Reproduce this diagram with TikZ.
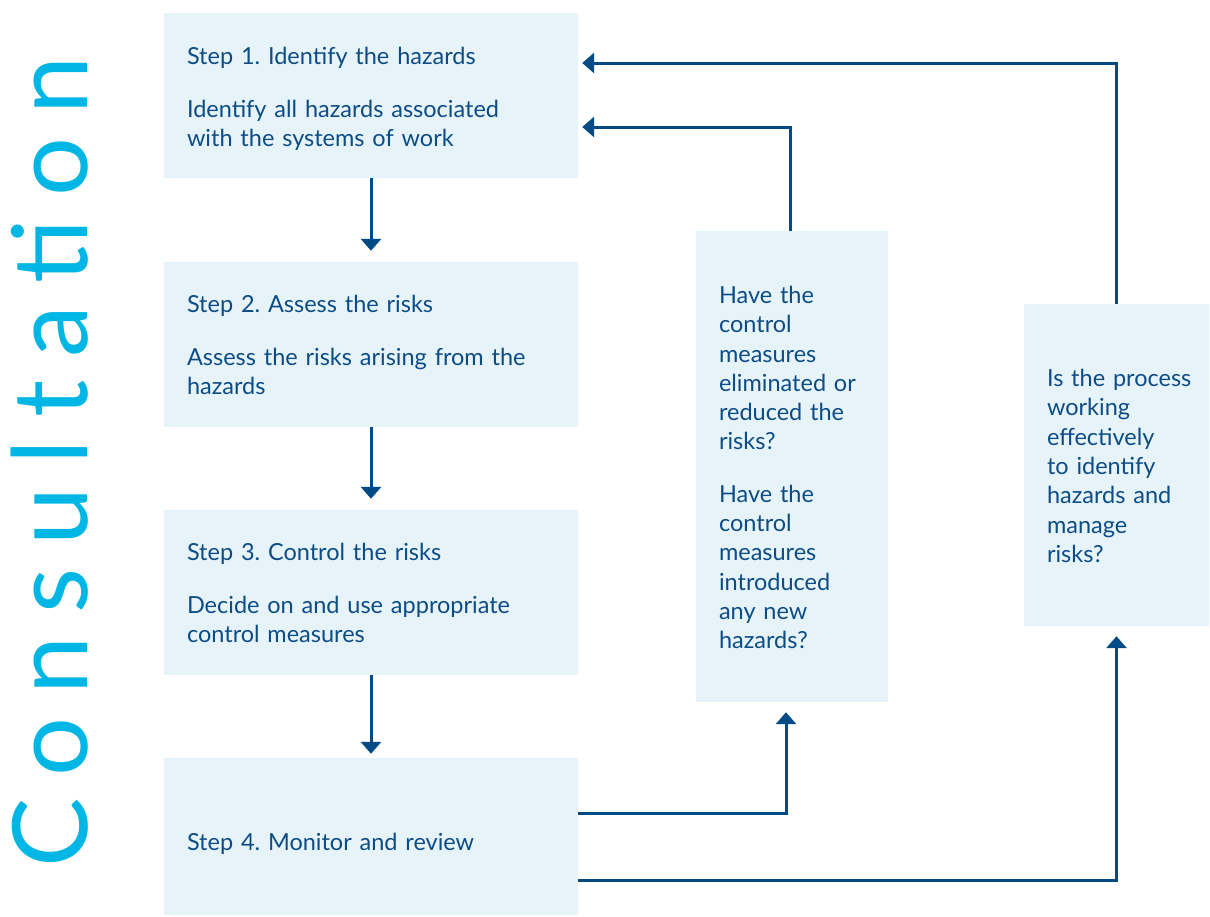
\documentclass[tikz,border=0pt]{standalone}
\usepackage{fontspec}
\setmainfont{Lato}
\newfontfamily\consfont[LetterSpace=22]{Lato}
\usetikzlibrary{arrows.meta}
\definecolor{boxblue}{HTML}{E6F4FA}
\definecolor{textblue}{HTML}{0E4C86}
\definecolor{linkblue}{HTML}{004A86}
\definecolor{cyanword}{HTML}{00B6E4}
\frenchspacing
\hyphenpenalty=10000
\exhyphenpenalty=10000

\begin{document}
\begin{tikzpicture}[x=1pt,y=-1pt,
  stepbox/.style={fill=boxblue,text=textblue,align=left,inner xsep=23pt,
    inner ysep=0pt,font=\fontsize{23.5}{29.3}\selectfont},
  textdrop/.style={execute at begin node={\rule{0pt}{#1}}},
  link/.style={draw=linkblue,line width=3pt,
    -{Triangle[width=20pt,length=12pt]}}]
    \useasboundingbox (0,0) rectangle (1210,916);
    % side word
    \node[rotate=90,text=cyanword,inner sep=0pt,
      font=\consfont\fontsize{104}{104}\selectfont] (cons) at (50,462) {Consultation};

    % steps
    \node[stepbox,textdrop=24.3pt,text width=368pt,minimum height=165pt] (s1) at (371,95.5)
      {Step 1. Identify the hazards\\[23pt]
       Identify all hazards associated\\ with the systems of work};
    \node[stepbox,textdrop=18.3pt,text width=368pt,minimum height=165pt] (s2) at (371,344.5)
      {Step 2. Assess the risks\\[23pt]
       Assess the risks arising from the\\ hazards};
    \node[stepbox,textdrop=18.3pt,text width=368pt,minimum height=165pt] (s3) at (371,592.5)
      {Step 3. Control the risks\\[23pt]
       Decide on and use appropriate\\ control measures};
    \node[stepbox,textdrop=32.3pt,text width=368pt,minimum height=157pt] (s4) at (371,836.5)
      {Step 4. Monitor and review};

    % questions
    \node[stepbox,textdrop=19.3pt,text width=146pt,minimum height=471pt] (qa) at (792,466.5)
      {Have the\\ control\\ measures\\ eliminated or\\ reduced the\\ risks?\\[23pt]
       Have the\\ control\\ measures\\ introduced\\ any new\\ hazards?};
    \node[stepbox,textdrop=19.3pt,text width=139pt,minimum height=322pt] (qb) at (1116.5,465)
      {\mbox{Is the process}\\ working\\ effectively\\ to identify\\ hazards and\\ manage\\ risks?};

    % arrows down
    \draw[link] (s1.south) -- ([yshift=11pt]s2.north);
    \draw[link] (s2.south) -- ([yshift=11pt]s3.north);
    \draw[link] (s3.south) -- ([yshift=4pt]s4.north);

    % review loops
    \draw[link] ([yshift=23.5pt]s4.east) -| ([xshift=-6pt,yshift=-10pt]qa.south);
    \draw[link] ([yshift=-43.5pt]s4.east) -| ([yshift=-10pt]qb.south);
    \draw[link] ([xshift=-2pt]qa.north) |- ([xshift=4pt,yshift=-31.5pt]s1.east);
    \draw[link] (qb.north) |- ([xshift=4pt,yshift=32.5pt]s1.east);
\end{tikzpicture}
\end{document}
